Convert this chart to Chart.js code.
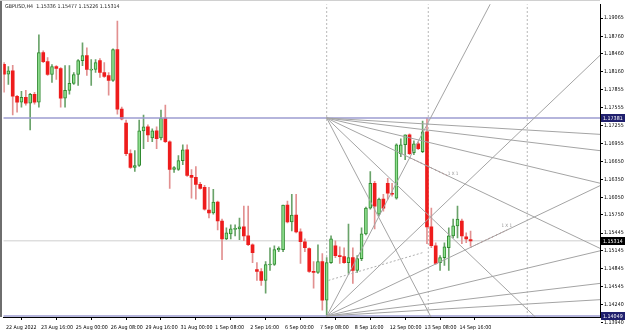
<!DOCTYPE html>
<html>
<head>
<meta charset="utf-8">
<script src="https://cdn.jsdelivr.net/npm/chart.js@4.4.0/dist/chart.umd.min.js"></script>
<style>
  html, body { margin: 0; padding: 0; background: #fff; }
  canvas { display: block; }
</style>
</head>
<body>
<canvas id="chart" width="625" height="336"></canvas>
<script>
// GBPUSD H4, 22 Aug 2022 08:00 .. 15 Sep 2022 (one entry per bar)
const opens = [1.18287,1.18120,1.18177,1.17748,1.17648,1.17732,1.17632,1.17782,1.17648,1.18482,
  1.18332,1.18115,1.18248,1.18215,1.17715,1.17848,1.17965,1.18115,1.18348,1.18432,
  1.18187,1.18198,1.18348,1.18148,1.18098,1.18015,1.18532,1.17532,1.17298,1.16782,
  1.16548,1.16582,1.17165,1.17232,1.17048,1.17165,1.17048,1.17382,1.16982,1.16515,
  1.16515,1.16665,1.16848,1.16415,1.16382,1.16265,1.16215,1.15832,1.15782,1.15965,
  1.15648,1.15348,1.15432,1.15507,1.15515,1.15548,1.15398,1.15248,1.14832,1.14798,
  1.14648,1.14907,1.14915,1.15160,1.15165,1.15915,1.15632,1.15748,1.15465,1.15298,
  1.15182,1.14798,1.14782,1.14965,1.14315,1.14948,1.15232,1.15065,1.15048,1.14948,
  1.15032,1.14815,1.15015,1.15432,1.15865,1.16282,1.15765,1.16015,1.16282,1.16115,
  1.16032,1.16782,1.16932,1.17098,1.16798,1.16948,1.16815,1.17148,1.15548,1.15232,
  1.14948,1.15032,1.15198,1.15398,1.15565,1.15648,1.15382,1.15336];
const highs = [1.18315,1.18248,1.18270,1.17765,1.17832,1.17848,1.17798,1.17815,1.18782,1.18515,
  1.18398,1.18282,1.18265,1.18232,1.18265,1.18265,1.18148,1.18365,1.18648,1.18565,
  1.18365,1.18365,1.18382,1.18315,1.18148,1.18548,1.19015,1.17565,1.17348,1.16848,
  1.16832,1.17348,1.17432,1.17265,1.17198,1.17232,1.17515,1.17598,1.16998,1.16565,
  1.16748,1.16932,1.16932,1.16515,1.16565,1.16298,1.16248,1.16215,1.16182,1.15982,
  1.15682,1.15532,1.15582,1.15582,1.15698,1.15898,1.15898,1.15265,1.14948,1.14848,
  1.14965,1.15198,1.15232,1.15215,1.15915,1.15982,1.16098,1.16098,1.15515,1.15348,
  1.15198,1.14965,1.15248,1.15098,1.15032,1.15398,1.15315,1.15215,1.15198,1.15598,
  1.15198,1.15065,1.15532,1.15882,1.16482,1.16315,1.16032,1.16098,1.16365,1.16282,
  1.16948,1.17032,1.17098,1.17115,1.16998,1.16982,1.17332,1.17381,1.15865,1.15282,
  1.15065,1.15282,1.15532,1.15682,1.15898,1.15682,1.15448,1.15477];
const lows = [1.17815,1.17948,1.17432,1.17482,1.17565,1.17598,1.17182,1.17615,1.17565,1.18315,
  1.18098,1.17982,1.18032,1.17565,1.17565,1.17782,1.17948,1.17932,1.18265,1.18098,
  1.17932,1.18148,1.18065,1.18065,1.17765,1.17998,1.17448,1.17348,1.16748,1.16532,
  1.16482,1.16565,1.16865,1.16982,1.16982,1.16865,1.17015,1.16965,1.16198,1.16465,
  1.16498,1.16598,1.16398,1.16032,1.16015,1.16182,1.15832,1.15698,1.15765,1.15498,
  1.14998,1.15332,1.15348,1.15398,1.15332,1.15315,1.15232,1.14948,1.14648,1.14565,
  1.14432,1.14815,1.14898,1.15132,1.15132,1.15615,1.15482,1.15448,1.14932,1.15132,
  1.14782,1.14515,1.14765,1.14148,1.14049,1.14932,1.15032,1.14932,1.14932,1.14765,
  1.14598,1.14782,1.14982,1.15415,1.15848,1.15515,1.15732,1.15815,1.16015,1.16065,
  1.16015,1.16732,1.16682,1.16765,1.16765,1.16848,1.16798,1.15265,1.15198,1.14915,
  1.14815,1.14898,1.14815,1.15365,1.15365,1.15265,1.15282,1.15226];
const closes = [1.18120,1.18177,1.17748,1.17648,1.17732,1.17632,1.17782,1.17648,1.18482,1.18332,
  1.18115,1.18248,1.18215,1.17715,1.17848,1.17965,1.18115,1.18348,1.18432,1.18198,
  1.18203,1.18315,1.18148,1.18082,1.18015,1.18532,1.17532,1.17365,1.16782,1.16548,
  1.16582,1.17165,1.17232,1.17098,1.17165,1.17032,1.17382,1.16982,1.16515,1.16548,
  1.16665,1.16848,1.16415,1.16382,1.16265,1.16198,1.15848,1.15782,1.15965,1.15648,
  1.15348,1.15448,1.15515,1.15515,1.15548,1.15398,1.15248,1.15115,1.14798,1.14648,
  1.14915,1.14915,1.15165,1.15187,1.15915,1.15632,1.15748,1.15465,1.15298,1.15198,
  1.14798,1.14782,1.14965,1.14315,1.14948,1.15348,1.15065,1.15048,1.14948,1.15032,
  1.14815,1.15015,1.15432,1.15865,1.16282,1.15898,1.16015,1.15865,1.16115,1.16098,
  1.16932,1.16932,1.17098,1.16782,1.16948,1.16865,1.17148,1.15548,1.15232,1.14932,
  1.15032,1.15215,1.15398,1.15565,1.15682,1.15398,1.15348,1.15314];

const timeLabels = ['22 Aug 2022','23 Aug 16:00','25 Aug 00:00','26 Aug 08:00','29 Aug 16:00',
  '31 Aug 00:00','1 Sep 08:00','2 Sep 16:00','6 Sep 00:00','7 Sep 08:00','8 Sep 16:00',
  '12 Sep 00:00','13 Sep 08:00','14 Sep 16:00'];
const timeTickIdx = [0,8,16,24,32,40,48,56,64,72,80,88,96,104];
const priceTicks = [1.19065,1.18760,1.18460,1.18160,1.17855,1.17555,1.17255,1.16955,1.16650,
  1.16350,1.16050,1.15750,1.15445,1.15145,1.14845,1.14545,1.14240,1.13940];

// drawn objects
const levelHigh = 1.17381;
const levelLow = 1.14049;
const bidPrice = 1.15314;
const fanOrigin = 74;          // bar index of both fan anchors
const fanUnit = 0.00035;       // 1x1 price change per bar
const fanRatios = [4, 2, 1, 0.5, 0.25, 0.125];
const cycleBars = [74, 97.3, 120];

const xMin = -0.16, xMax = 136.68;
const yMin = 1.140317, yMax = 1.192983;
const FONT = '"DejaVu Sans Condensed", "Liberation Sans", sans-serif';
const FSIZE = 5.3;

const bull = opens.map((o, i) => closes[i] >= o);

function fanLine(price, ratio, dir) {
  const end = 140;
  return [{ x: fanOrigin, y: price }, { x: end, y: price + dir * ratio * fanUnit * (end - fanOrigin) }];
}
function on1x1(price, dir, a, b) {
  return [{ x: a, y: price + dir * fanUnit * (a - fanOrigin) }, { x: b, y: price + dir * fanUnit * (b - fanOrigin) }];
}
function lineSet(data, color, width, dash, order) {
  return { type: 'line', data: data, borderColor: color, borderWidth: width, borderDash: dash || [],
    pointRadius: 0, fill: false, tension: 0, order: order === undefined ? 1 : order };
}

const lineSets = [];
cycleBars.forEach(b => lineSets.push(lineSet([{ x: b, y: yMin }, { x: b, y: yMax }], '#b8b8b8', 1, [2, 2], 5)));
lineSets.push(lineSet([{ x: xMin, y: bidPrice }, { x: xMax, y: bidPrice }], '#cfcfcf', 1, [], 5));
fanRatios.forEach(r => {
  lineSets.push(lineSet(fanLine(levelHigh, r, -1), '#a4a4a4', 1));
  lineSets.push(lineSet(fanLine(levelLow, r, 1), '#a4a4a4', 1));
});
lineSets.push(lineSet(on1x1(levelLow, 1, 106.9, 115.4), '#c07070', 1, [2, 2]));
lineSets.push(lineSet(on1x1(levelHigh, -1, 93, 101.7), '#c07070', 1, [2, 2]));
lineSets.push(lineSet([{ x: 74.4, y: 1.14648 }, { x: 96, y: 1.15115 }], '#b0b0b0', 1, [2, 2]));
lineSets.push(lineSet([{ x: xMin, y: levelHigh }, { x: xMax, y: levelHigh }], '#9c9cd0', 1.5));
lineSets.push(lineSet([{ x: xMin, y: levelLow }, { x: xMax, y: levelLow }], '#9c9cd0', 1.5));

const overlayPlugin = {
  id: 'overlay',
  beforeDraw(chart) {
    const ctx = chart.ctx;
    ctx.save();
    ctx.fillStyle = '#fff';
    ctx.fillRect(0, 0, chart.width, chart.height);
    ctx.restore();
  },
  afterDraw(chart) {
    const ctx = chart.ctx;
    const area = chart.chartArea;
    const ys = chart.scales.y, xs = chart.scales.x;
    ctx.save();
    // frame
    ctx.strokeStyle = '#6e6e6e';
    ctx.lineWidth = 2;
    ctx.beginPath();
    ctx.moveTo(1, 0); ctx.lineTo(1, area.bottom);
    ctx.stroke();
    ctx.strokeStyle = '#d0d0d0';
    ctx.lineWidth = 1;
    ctx.beginPath();
    ctx.moveTo(0, 0.5); ctx.lineTo(area.right, 0.5);
    ctx.stroke();

    // price boxes
    ctx.font = FSIZE + 'px ' + FONT;
    ctx.textBaseline = 'middle';
    ctx.textAlign = 'left';
    [[levelHigh, '#20206e'], [bidPrice, '#000000'], [levelLow, '#20206e']].forEach(([v, bg]) => {
      const y = Math.round(ys.getPixelForValue(v));
      ctx.fillStyle = bg;
      ctx.fillRect(area.right + 1, y - 4, 24, 8);
      ctx.fillStyle = '#fff';
      ctx.fillText(v.toFixed(5), area.right + 3, y + 0.5);
    });

    // symbol / ohlc caption
    ctx.fillStyle = '#222';
    ctx.fillText('GBPUSD,H4  1.15336 1.15477 1.15226 1.15314', 5, 7);

    // fan labels
    ctx.fillStyle = '#8a8a8a';
    ctx.font = '4.6px ' + FONT;
    ctx.textAlign = 'center';
    ctx.fillText('1 X 1', xs.getPixelForValue(103), ys.getPixelForValue(levelHigh - fanUnit * 29) - 5);
    ctx.fillText('1 X 1', xs.getPixelForValue(115.3), ys.getPixelForValue(levelLow + fanUnit * 41.3) - 4);
    ctx.restore();
  }
};

new Chart(document.getElementById('chart').getContext('2d'), {
  type: 'bar',
  data: {
    datasets: [
      {
        label: 'wick',
        data: opens.map((o, i) => ({ x: i, y: [lows[i], highs[i]] })),
        backgroundColor: bull.map(b => b ? '#6aa36a' : '#e29090'),
        barThickness: 1,
        grouped: false,
        order: 3
      },
      {
        label: 'body',
        data: opens.map((o, i) => ({ x: i, y: [o, closes[i]] })),
        backgroundColor: bull.map(b => b ? '#8fdf8f' : '#ee1c1c'),
        borderColor: bull.map(b => b ? '#2f8a2f' : '#ee1c1c'),
        borderWidth: bull.map(b => b ? 1 : 0),
        borderSkipped: false,
        barThickness: 3,
        minBarLength: 1,
        grouped: false,
        order: 2
      },
      ...lineSets
    ]
  },
  options: {
    responsive: false,
    animation: false,
    events: [],
    layout: { padding: { top: 1, left: 2, right: 0, bottom: 0 } },
    plugins: { legend: { display: false }, tooltip: { enabled: false }, title: { display: false } },
    scales: {
      x: {
        type: 'linear',
        min: xMin,
        max: xMax,
        offset: false,
        afterBuildTicks: s => { s.ticks = timeTickIdx.map(v => ({ value: v })); },
        afterFit: s => { s.height = 19; },
        ticks: {
          autoSkip: false, maxRotation: 0, minRotation: 0, align: 'start', labelOffset: 2, padding: 4,
          color: '#000', font: { family: FONT, size: FSIZE },
          callback: (v, i) => timeLabels[i]
        },
        grid: { drawOnChartArea: false, drawTicks: true, tickLength: 3, color: '#000' },
        border: { display: true, color: '#000' }
      },
      y: {
        type: 'linear',
        position: 'right',
        min: yMin,
        max: yMax,
        beginAtZero: false,
        afterBuildTicks: s => { s.ticks = priceTicks.map(v => ({ value: v })); },
        afterFit: s => { s.width = 25; },
        ticks: {
          autoSkip: false, padding: 1, color: '#000', font: { family: FONT, size: FSIZE },
          callback: v => v.toFixed(5)
        },
        grid: { drawOnChartArea: false, drawTicks: true, tickLength: 3, color: '#000' },
        border: { display: true, color: '#000' }
      }
    }
  },
  plugins: [overlayPlugin]
});
</script>
</body>
</html>
